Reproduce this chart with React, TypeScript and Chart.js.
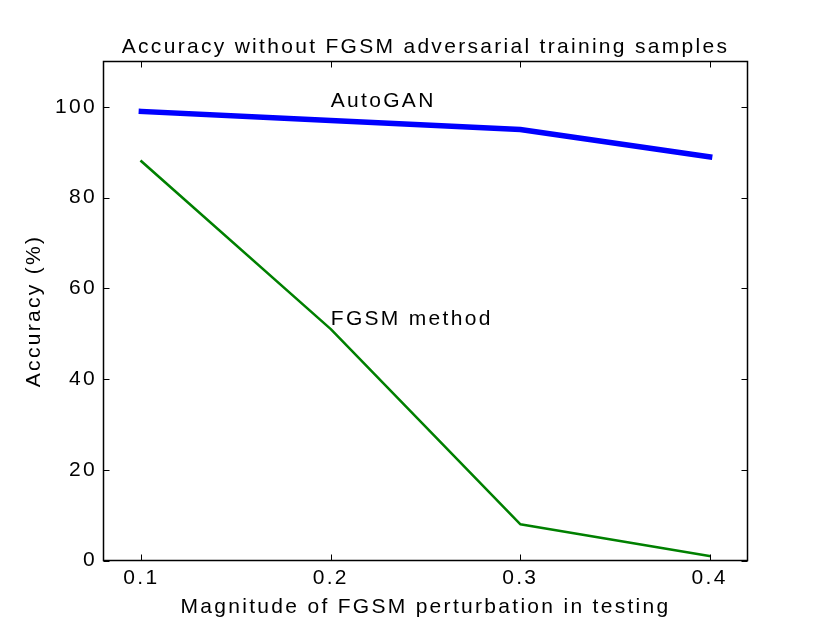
import { useEffect, useRef } from "react";
import { Chart, registerables } from "chart.js";

Chart.register(...registerables);

const magnitudes = [0.1, 0.2, 0.3, 0.4];
const autoGanAccuracy = [99, 97, 95, 89];
const fgsmAccuracy = [88, 51, 8, 1];

const xTickValues = [0.1, 0.2, 0.3, 0.4];
const yTickValues = [0, 20, 40, 60, 80, 100];

const noteLabels = ["AutoGAN", "FGSM method"];
const noteX = [0.2, 0.2];
const noteY = [100, 52];

const FONT = "'Liberation Sans', Arial, sans-serif";
const SPACING = "2.3px";

export default function App() {
  const canvasRef = useRef<HTMLCanvasElement | null>(null);

  useEffect(() => {
    if (!canvasRef.current) return;

    // matplotlib-ish look: wide letter spacing, inward ticks, black frame
    const spacingPlugin = {
      id: "spacing",
      beforeUpdate(chart: any) {
        chart.ctx.letterSpacing = SPACING;
      },
      beforeDraw(chart: any) {
        chart.ctx.letterSpacing = SPACING;
      },
    };

    const framePlugin = {
      id: "frame",
      afterDatasetsDraw(chart: any) {
        const { ctx, chartArea } = chart;
        const { left, right, top, bottom } = chartArea;
        const xs = chart.scales.x;
        const ys = chart.scales.y;
        const len = 6;

        ctx.save();
        ctx.strokeStyle = "#000";
        ctx.lineWidth = 1;
        ctx.beginPath();
        xs.ticks.forEach((t: any) => {
          const px = Math.round(xs.getPixelForValue(t.value)) + 0.5;
          ctx.moveTo(px, bottom);
          ctx.lineTo(px, bottom - len);
          ctx.moveTo(px, top);
          ctx.lineTo(px, top + len);
        });
        ys.ticks.forEach((t: any) => {
          const py = Math.round(ys.getPixelForValue(t.value)) + 0.5;
          ctx.moveTo(left, py);
          ctx.lineTo(left + len, py);
          ctx.moveTo(right, py);
          ctx.lineTo(right - len, py);
        });
        ctx.stroke();

        ctx.lineWidth = 1.5;
        ctx.strokeRect(left, top, right - left, bottom - top);

        ctx.fillStyle = "#000";
        ctx.font = `21px ${FONT}`;
        ctx.textAlign = "left";
        ctx.textBaseline = "alphabetic";
        noteLabels.forEach((label, i) => {
          ctx.fillText(
            label,
            xs.getPixelForValue(noteX[i]),
            ys.getPixelForValue(noteY[i])
          );
        });
        ctx.restore();
      },
    };

    const chart = new Chart(canvasRef.current, {
      type: "line",
      data: {
        datasets: [
          {
            label: "AutoGAN",
            data: magnitudes.map((m, i) => ({ x: m, y: autoGanAccuracy[i] })),
            borderColor: "#0000ff",
            borderWidth: 5.5,
            borderCapStyle: "square",
            borderJoinStyle: "round",
            pointRadius: 0,
            tension: 0,
          },
          {
            label: "FGSM method",
            data: magnitudes.map((m, i) => ({ x: m, y: fgsmAccuracy[i] })),
            borderColor: "#008000",
            borderWidth: 2.5,
            borderCapStyle: "square",
            borderJoinStyle: "round",
            pointRadius: 0,
            tension: 0,
          },
        ],
      },
      options: {
        responsive: false,
        animation: false,
        devicePixelRatio: 1,
        layout: { padding: { left: 0, right: 82.5, top: 0, bottom: 0 } },
        plugins: {
          legend: { display: false },
          tooltip: { enabled: false },
          title: {
            display: true,
            fullSize: false,
            text: "Accuracy without FGSM adversarial training samples",
            color: "#000",
            font: { family: FONT, size: 21, weight: "normal" },
            padding: { top: 34.9, bottom: 1.4 },
          },
        },
        scales: {
          x: {
            type: "linear",
            min: 0.08,
            max: 0.42,
            grid: { display: false, drawTicks: false },
            border: { display: false },
            afterBuildTicks: (scale: any) => {
              scale.ticks = xTickValues.map((v) => ({ value: v }));
            },
            afterFit: (scale: any) => {
              scale.height = 62.5;
            },
            ticks: {
              color: "#000",
              padding: 5,
              maxRotation: 0,
              font: { family: FONT, size: 21 },
              callback: (v: any) => Number(v).toFixed(1),
            },
            title: {
              display: true,
              text: "Magnitude of FGSM perturbation in testing",
              color: "#000",
              font: { family: FONT, size: 21 },
              padding: { top: 0, bottom: 3.4 },
            },
          },
          y: {
            type: "linear",
            min: 0,
            max: 110,
            grid: { display: false, drawTicks: false },
            border: { display: false },
            afterBuildTicks: (scale: any) => {
              scale.ticks = yTickValues.map((v) => ({ value: v }));
            },
            afterFit: (scale: any) => {
              scale.width = 103.5;
            },
            ticks: {
              color: "#000",
              padding: 6.5,
              font: { family: FONT, size: 21 },
            },
            title: {
              display: true,
              text: "Accuracy (%)",
              color: "#000",
              font: { family: FONT, size: 21 },
              padding: { top: 22, bottom: 0 },
            },
          },
        },
      },
      plugins: [spacingPlugin, framePlugin],
    });

    return () => chart.destroy();
  }, []);

  return (
    <div
      style={{
        position: "absolute",
        left: 0,
        top: 0,
        width: 830,
        height: 623,
        background: "#fff",
      }}
    >
      <canvas ref={canvasRef} width={830} height={623} />
    </div>
  );
}
